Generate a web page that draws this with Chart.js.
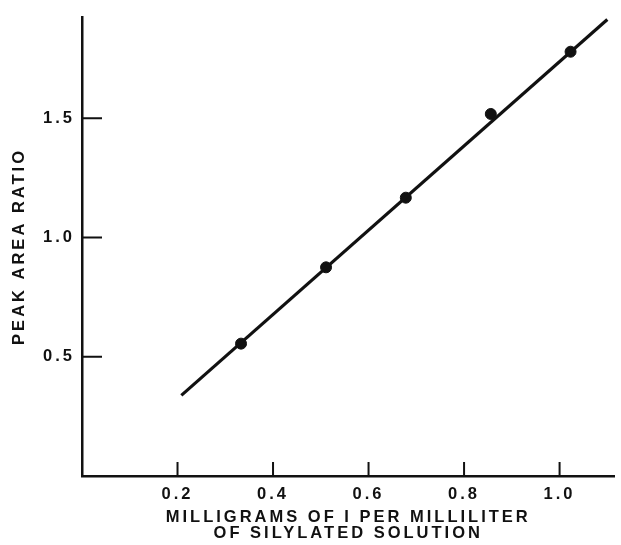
<!DOCTYPE html>
<html>
<head>
<meta charset="utf-8">
<script src="https://cdn.jsdelivr.net/npm/chart.js@4"></script>
<style>
  html, body { margin: 0; padding: 0; background: #fff; }
  #wrap { width: 621px; height: 545px; }
</style>
</head>
<body>
<div id="wrap"><canvas id="myChart"></canvas></div>
<script>
const ctx = document.getElementById("myChart");

// measured points
const mgPerMl = [0.333, 0.511, 0.678, 0.856, 1.023];
const peakRatio = [0.555, 0.875, 1.167, 1.518, 1.779];

// fitted line ends
const fitX = [0.208, 1.10];
const fitY = [0.338, 1.914];

const xTicks = [0.2, 0.4, 0.6, 0.8, 1.0];
const yTicks = [0.5, 1.0, 1.5];

const ink = '#111';
const fontSpec = { family: '"Liberation Sans", Arial, sans-serif', size: 16.5, weight: 'bold' };

// spaced-out lettering like the printed figure
const letter_spacing = {
    id: 'letter_spacing',
    beforeLayout: (chart) => { chart.ctx.letterSpacing = '3px'; },
    beforeDraw: (chart) => { chart.ctx.letterSpacing = '3px'; },
};

// tick marks pointing into the plot
const inner_ticks = {
    id: 'inner_ticks',
    afterDraw: (chart) => {
        const { ctx, chartArea: { left, bottom }, scales: { x, y } } = chart;
        ctx.save();
        ctx.strokeStyle = ink;
        ctx.lineWidth = 2;
        ctx.beginPath();
        xTicks.forEach(v => {
            const px = x.getPixelForValue(v);
            ctx.moveTo(px, bottom);
            ctx.lineTo(px, bottom - 14);
        });
        yTicks.forEach(v => {
            const py = y.getPixelForValue(v);
            ctx.moveTo(left, py);
            ctx.lineTo(left + 20, py);
        });
        ctx.stroke();
        ctx.restore();
    },
};

new Chart(ctx, {
    type: 'scatter',
    data: {
        datasets: [
            {
                label: 'fit',
                data: fitX.map((v, i) => ({ x: v, y: fitY[i] })),
                showLine: true,
                borderColor: ink,
                borderWidth: 3.2,
                pointRadius: 0,
            },
            {
                label: 'measured',
                data: mgPerMl.map((v, i) => ({ x: v, y: peakRatio[i] })),
                backgroundColor: ink,
                borderColor: ink,
                pointRadius: 5.5,
            },
        ]
    },
    options: {
        maintainAspectRatio: false,
        responsive: true,
        animation: false,
        layout: { padding: { top: 14, right: 1, left: 0, bottom: 0 } },
        plugins: {
            legend: { display: false },
            tooltip: { enabled: false },
        },
        scales: {
            x: {
                type: 'linear',
                min: 0,
                max: 1.115,
                afterBuildTicks: (axis) => { axis.ticks = xTicks.map(v => ({ value: v })); },
                afterFit: (axis) => { axis.height = 69; },
                grid: { display: false, drawTicks: false },
                border: { display: true, color: ink, width: 2.5 },
                ticks: {
                    color: ink,
                    font: fontSpec,
                    padding: 9,
                    maxRotation: 0,
                    callback: (v) => Number(v).toFixed(1),
                },
                title: {
                    display: true,
                    text: ['MILLIGRAMS OF I PER MILLILITER', 'OF SILYLATED SOLUTION'],
                    color: ink,
                    font: { ...fontSpec, lineHeight: 0.97 },
                    padding: { top: 0, bottom: 3.5 },
                },
            },
            y: {
                type: 'linear',
                min: 0,
                max: 1.925,
                afterBuildTicks: (axis) => { axis.ticks = yTicks.map(v => ({ value: v })); },
                afterFit: (axis) => { axis.width = 82; },
                grid: { display: false, drawTicks: false },
                border: { display: true, color: ink, width: 2.5 },
                ticks: {
                    color: ink,
                    font: fontSpec,
                    padding: 7,
                    callback: (v) => Number(v).toFixed(1),
                },
                title: {
                    display: true,
                    text: 'PEAK AREA RATIO',
                    color: ink,
                    font: fontSpec,
                    padding: { top: 10, bottom: 0 },
                },
            },
        },
    },
    plugins: [letter_spacing, inner_ticks]
})
</script>
</body>
</html>
